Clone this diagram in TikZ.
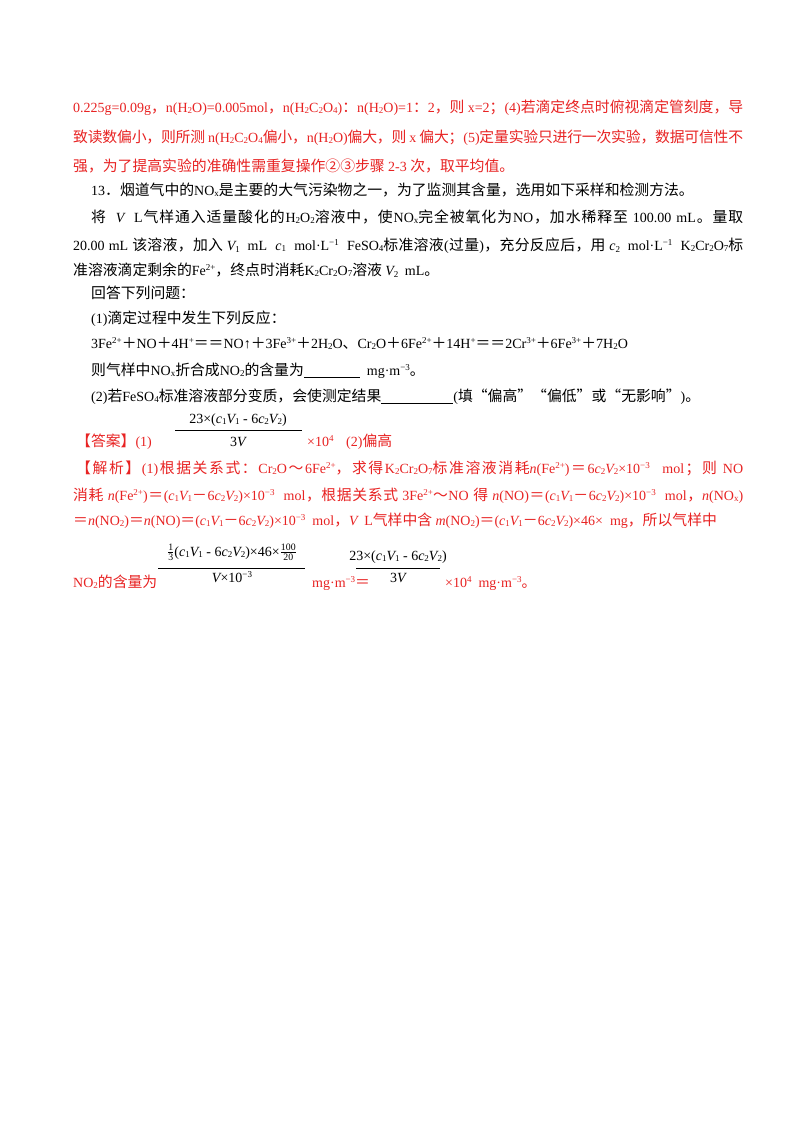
\documentclass[tikz,border=0pt]{standalone}
\usepackage{fontspec}
\setmainfont{Liberation Serif}
\newfontfamily\cjk[Scale=1.06]{Noto Sans CJK SC}
\XeTeXinterchartokenstate=1
\newXeTeXintercharclass\CJKcls
\newcount\cc
\def\setrange#1#2{\cc=#1\relax\loop\XeTeXcharclass\cc=\CJKcls\advance\cc1\ifnum\cc<#2\repeat}
\setrange{"4E00}{"A000}
\setrange{"3000}{"3040}
\setrange{"FF00}{"FFF0}
\setrange{"2460}{"2500}
\XeTeXcharclass"201C=\CJKcls \XeTeXcharclass"201D=\CJKcls
\def\sg{\hskip0pt plus 1pt minus 0.6pt\relax}
\XeTeXinterchartoks 0 \CJKcls = {\sg\cjk}
\XeTeXinterchartoks 4095 \CJKcls = {\cjk}
\XeTeXinterchartoks \CJKcls \CJKcls = {\sg}
\XeTeXinterchartoks \CJKcls 0 = {\sg\rmfamily}
\XeTeXinterchartoks 4095 0 = {\rmfamily}
\definecolor{ans}{RGB}{232,35,35}
\newcommand\dn[1]{\raisebox{-0.3ex}{\rmfamily\fontsize{9}{9}\selectfont #1}}
\newcommand\up[1]{\raisebox{0.75ex}{\rmfamily\fontsize{9}{9}\selectfont #1}}
\newcommand\vi[1]{{\rmfamily\itshape #1}}
\newcommand\cvv{(\vi{c}\dn1\vi{V}\dn1－6\vi{c}\dn2\vi{V}\dn2)}
\newcommand\cvn{(\vi{c}\dn1\vi{V}\dn1 - 6\vi{c}\dn2\vi{V}\dn2)}
\newcommand\full[2]{\hbox to #1pt{#2}}
\begin{document}
\begin{tikzpicture}[x=1pt,y=-1pt,
  txt/.style={anchor=base west,inner sep=0pt,font=\fontsize{14}{14}\selectfont},
  red/.style={txt,text=ans},
  bar/.style={line width=0.6pt}]
\useasboundingbox[fill=white] (0,0) rectangle (800,1132);
\node[red] (l1) at (73,112) {\full{670}{0.225g=0.09g，n(H\dn2O)=0.005mol，n(H\dn2C\dn2O\dn4)：n(H\dn2O)=1：2，则 x=2；(4)若滴定终点时俯视滴定管刻度，导}};
\node[red] (l2) at (73,142) {\full{670}{致读数偏小，则所测 n(H\dn2C\dn2O\dn4偏小，n(H\dn2O)偏大，则 x 偏大；(5)定量实验只进行一次实验，数据可信性不}};
\node[red] (l3) at (73,171) {强，为了提高实验的准确性需重复操作②③步骤 2-3 次，取平均值。};
\node[txt] (l4) at (91,195) {13．烟道气中的NO\dn{x}是主要的大气污染物之一，为了监测其含量，选用如下采样和检测方法。};
\node[txt] (l5) at (91,222) {\full{652}{将\ \ \vi{V}\ \ L气样通入适量酸化的H\dn2O\dn2溶液中，使NO\dn{x}完全被氧化为NO，加水稀释至 100.00 mL。量取}};
\node[txt] (l6) at (73,250) {\full{670}{20.00 mL 该溶液，加入 \vi{V}\dn1\ \ mL\ \ \vi{c}\dn1\ \ mol·L\up{−1}\ \ FeSO\dn4标准溶液(过量)，充分反应后，用 \vi{c}\dn2\ \ mol·L\up{−1}\ \ K\dn2Cr\dn2O\dn7标}};
\node[txt] (l7) at (73,275) {准溶液滴定剩余的Fe\up{2+}，终点时消耗K\dn2Cr\dn2O\dn7溶液 \vi{V}\dn2\ \ mL。};
\node[txt] (l8) at (91,298) {回答下列问题：};
\node[txt] (l9) at (91,323) {(1)滴定过程中发生下列反应：};
\node[txt] (l10) at (91,348) {3Fe\up{2+}＋NO＋4H\up{+}＝＝NO↑＋3Fe\up{3+}＋2H\dn2O、Cr\dn2O＋6Fe\up{2+}＋14H\up{+}＝＝2Cr\up{3+}＋6Fe\up{3+}＋7H\dn2O};
\node[txt] (l11) at (91,375) {则气样中NO\dn{x}折合成NO\dn2的含量为\rule[-2pt]{56pt}{0.5pt}\rmfamily\ \ mg·m\up{−3}。};
\node[txt] (l12) at (91,401) {(2)若FeSO\dn4标准溶液部分变质，会使测定结果\rule[-2pt]{72pt}{0.5pt}\rmfamily(填“偏高”“偏低”或“无影响”)。};
% answer
\node[red] (a1) at (76,446) {【答案】(1)};
\node[txt,anchor=base] (f1n) at (238,423) {23×\cvn};
\draw[bar] (175,430) -- (302,430);
\node[txt,anchor=base] (f1d) at (238,446) {3\vi{V}};
\node[red] (a2) at (307,446) {×10\up4};
\node[red] (a3) at (346,446) {(2)偏高};
% analysis
\node[red] (j1) at (76,473) {\full{667}{【解析】(1)根据关系式：Cr\dn2O～6Fe\up{2+}，求得K\dn2Cr\dn2O\dn7标准溶液消耗\vi{n}(Fe\up{2+})＝6\vi{c}\dn2\vi{V}\dn2×10\up{−3}\ \ mol；则 NO}};
\node[red] (j2) at (73,500) {\full{670}{消耗 \vi{n}(Fe\up{2+})＝\cvv×10\up{−3}\ \ mol，根据关系式 3Fe\up{2+}～NO 得 \vi{n}(NO)＝\cvv×10\up{−3}\ \ mol，\vi{n}(NO\dn{x})}};
\node[red] (j3) at (73,525) {＝\vi{n}(NO\dn2)＝\vi{n}(NO)＝\cvv×10\up{−3}\ \ mol，\vi{V}\ \ L气样中含 \vi{m}(NO\dn2)＝\cvv×46×\ \ mg，所以气样中};
\node[txt,anchor=base] (f2n) at (232,556) {$\frac{\mathrm{1}}{\mathrm{3}}$\cvn×46×$\frac{\mathrm{100}}{\mathrm{20}}$};
\draw[bar] (158,568) -- (305,568);
\node[txt,anchor=base] (f2d) at (232,582) {\vi{V}×10\up{−3}};
\node[red] (j4) at (73,587) {NO\dn2的含量为};
\node[red] (j5) at (312,587) {mg·m\up{−3}＝};
\node[txt,anchor=base] (f3n) at (398,560) {23×\cvn};
\draw[bar] (356,568) -- (440,568);
\node[txt,anchor=base] (f3d) at (398,582) {3\vi{V}};
\node[red] (j6) at (445,587) {×10\up4\ \ mg·m\up{−3}。};
\end{tikzpicture}
\end{document}
